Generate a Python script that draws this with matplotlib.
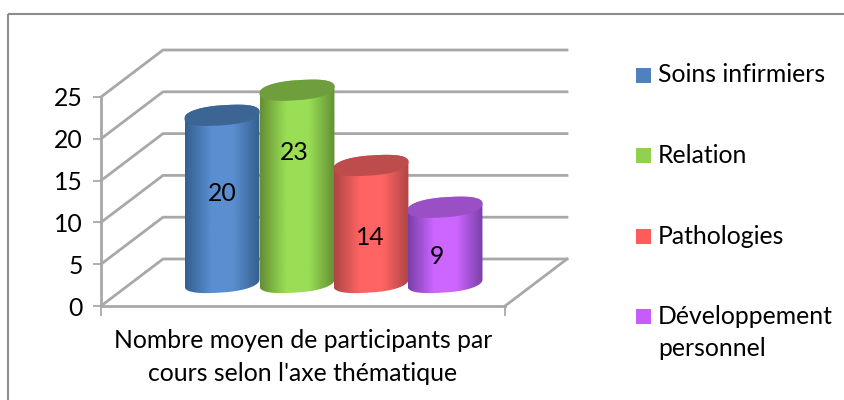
import numpy as np
import matplotlib
matplotlib.use("Agg")
import matplotlib.pyplot as plt
from matplotlib.patches import PathPatch, Rectangle
from matplotlib.path import Path
from matplotlib.colors import LinearSegmentedColormap

plt.rcParams['font.family'] = ['Lato', 'DejaVu Sans']

categories = ["Soins infirmiers", "Relation", "Pathologies", "Développement\npersonnel"]
values = [20, 23, 14, 9]
yticks = [0, 5, 10, 15, 20, 25]
xlabel = "Nombre moyen de participants par\ncours selon l'axe thématique"

# edge, centre and top colour of each cylinder
edge_colors = ["#345f8f", "#648f34", "#b04545", "#7a3fa8"]
mid_colors = ["#5a8ed0", "#9ade55", "#ff6464", "#cc66ff"]
top_colors = ["#3c6594", "#6f9e3c", "#bf4c4c", "#9a4fc4"]
legend_colors = ["#4f81bd", "#92d050", "#ff5b5b", "#c65bff"]

W, H = 844, 400
FS = 17.8
fig = plt.figure(figsize=(W / 100, H / 100), dpi=100)

# outer frame, its bottom edge is cut off by the image
frame = fig.add_axes([0, 0, 1, 1])
frame.set_xlim(0, W)
frame.set_ylim(H, 0)
frame.axis("off")
frame.add_patch(Rectangle((8, 13.5), W, H, fill=False, ec="#8c8c8c", lw=1.5))

# front plane of the chart: x in pixels along the floor, y in axis value
left, right, bottom, top = 101, 505, 306, 97
ax = fig.add_axes([left / W, 1 - bottom / H, (right - left) / W, (bottom - top) / H])
ax.set_xlim(0, right - left)
ax.set_ylim(0, 25)
ax.patch.set_alpha(0)
gray = "#a8a8a8"
for s in ["top", "right"]:
    ax.spines[s].set_visible(False)
for s in ["left", "bottom"]:
    ax.spines[s].set_color(gray)
    ax.spines[s].set_linewidth(2)
ax.set_xticks([0, right - left])
ax.set_xticklabels([])
ax.set_yticks(yticks)
ax.tick_params(axis="y", length=6, width=1.3, color=gray, labelsize=FS, pad=7)
ax.tick_params(axis="x", length=7, width=1.3, color=gray)

# depth of the walls
upp = 25 / (bottom - top)
dx, dy = 62, 47 * upp
xs = right - left
for v in yticks:
    ax.plot([0, dx, xs + dx], [v, v + dy, v + dy], color=gray, lw=2, clip_on=False, zorder=1)
ax.plot([xs, xs + dx], [0, dy], color=gray, lw=2, clip_on=False, zorder=1)

# cylinders
positions = [121, 196, 270, 344]
label_x = [121, 193, 269, 336]
label_v = [13.5, 18.4, 8.15, 5.9]
half_w = 37.5
base = 23.5 * upp
rad = 10 * upp
slope = 0.09 * upp


def ring(t):
    # slightly fat, tilted ellipse around the origin
    s = np.sin(t)
    c = np.cos(t)
    return half_w * np.sign(c) * np.abs(c) ** 0.85, rad * np.sign(s) * np.abs(s) ** 0.85 + slope * half_w * c


t1 = np.linspace(np.pi, 2 * np.pi, 80)
t2 = np.linspace(0, np.pi, 80)
t3 = np.linspace(0, 2 * np.pi, 160)

for i, v in enumerate(values):
    cx = positions[i]
    low_x, low_y = ring(t1)
    up_x, up_y = ring(t2)
    bx = np.concatenate([cx + low_x, cx + up_x])
    by = np.concatenate([base + low_y, base + v + up_y])
    clip = PathPatch(Path(np.column_stack([bx, by])), transform=ax.transData, fc="none", ec="none")
    ax.add_patch(clip)
    cmap = LinearSegmentedColormap.from_list(
        "c", [(0, edge_colors[i]), (0.35, mid_colors[i]), (0.65, mid_colors[i]), (1, edge_colors[i])])
    grad = np.linspace(0, 1, 200)[None, :]
    im = ax.imshow(grad, cmap=cmap, aspect="auto", zorder=3 + i * 0.1,
                   extent=[cx - half_w, cx + half_w, 0, v + base + 3])
    im.set_clip_box(fig.bbox)
    im.set_clip_path(clip.get_path(), transform=ax.transData)
    ex, ey = ring(t3)
    ax.fill(cx + ex, base + v + ey, color=top_colors[i], lw=0, zorder=3.05 + i * 0.1, clip_on=False)
    ax.text(label_x[i], label_v[i], str(v), ha="center", va="center", fontsize=FS,
            color="black", zorder=5)
ax.set_xlim(0, xs)
ax.set_ylim(0, 25)

frame.text(303, 357, xlabel, ha="center", va="center", fontsize=FS, linespacing=1.48)

# legend
leg_y = [75, 155.5, 236.5, 316.5]
for name, c, y in zip(categories, legend_colors, leg_y):
    frame.add_patch(Rectangle((636, y - 7.5), 15, 15, fc=c, ec="none"))
    if "\n" in name:
        frame.text(658, y + 16, name, ha="left", va="center", fontsize=FS, linespacing=1.48)
    else:
        frame.text(658, y, name, ha="left", va="center", fontsize=FS)

fig.savefig("out.png", dpi=100)
